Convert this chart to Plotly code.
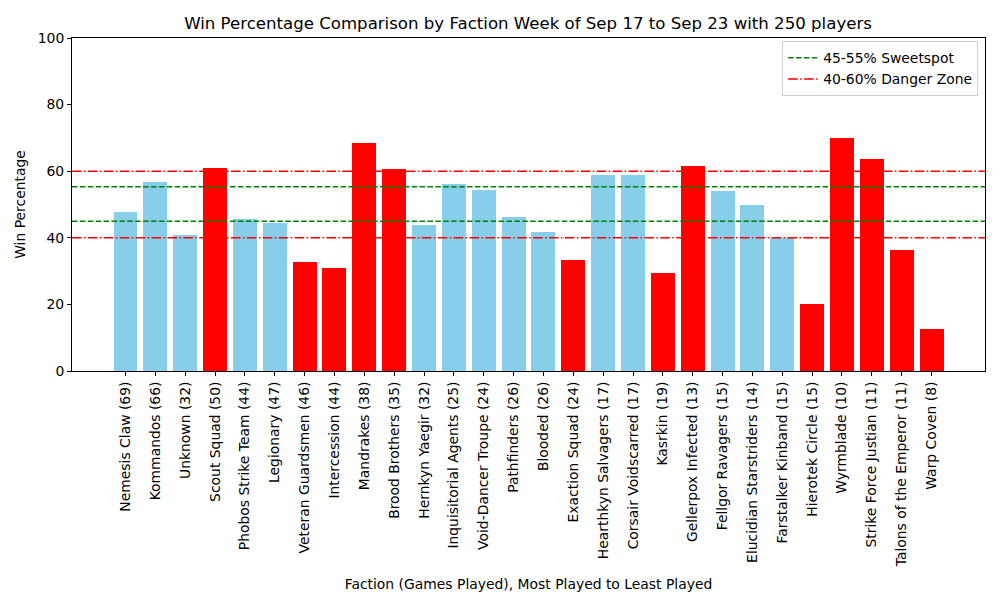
import plotly.graph_objects as go

factions = ["Nemesis Claw (69)", "Kommandos (66)", "Unknown (32)", "Scout Squad (50)",
            "Phobos Strike Team (44)", "Legionary (47)", "Veteran Guardsmen (46)",
            "Intercession (44)", "Mandrakes (38)", "Brood Brothers (35)", "Hernkyn Yaegir (32)",
            "Inquisitorial Agents (25)", "Void-Dancer Troupe (24)", "Pathfinders (26)",
            "Blooded (26)", "Exaction Squad (24)", "Hearthkyn Salvagers (17)",
            "Corsair Voidscarred (17)", "Kasrkin (19)", "Gellerpox Infected (13)",
            "Fellgor Ravagers (15)", "Elucidian Starstriders (14)", "Farstalker Kinband (15)",
            "Hierotek Circle (15)", "Wyrmblade (10)", "Strike Force Justian (11)",
            "Talons of the Emperor (11)", "Warp Coven (8)"]
win_pct = [47.8, 56.8, 40.8, 60.9, 45.6, 44.4, 32.7, 30.9, 68.4, 60.6, 43.8,
           56.1, 54.3, 46.2, 41.7, 33.3, 58.8, 58.8, 29.4, 61.5,
           54.0, 50.0, 40.0, 20.0, 70.0, 63.6, 36.4, 12.5]
sweet_lo, sweet_hi = 45, 55.3
danger_lo, danger_hi = 40, 60

colors = ["#FF0000" if (v < danger_lo or v > danger_hi) else "#87CEEB" for v in win_pct]
xs = list(range(len(factions)))

fig = go.Figure()
fig.add_trace(go.Bar(x=xs, y=win_pct, marker=dict(color=colors, line=dict(width=0)),
                     width=0.8, showlegend=False))

green_dash = "5.5px,2.4px"
red_dashdot = "9.6px,2.4px,1.5px,2.4px"
for yv in (sweet_lo, sweet_hi):
    fig.add_shape(type="line", xref="paper", x0=0, x1=1, yref="y", y0=yv, y1=yv,
                  line=dict(color="#008000", width=1.5, dash=green_dash))
for yv in (danger_lo, danger_hi):
    fig.add_shape(type="line", xref="paper", x0=0, x1=1, yref="y", y0=yv, y1=yv,
                  line=dict(color="#FF0000", width=1.5, dash=red_dashdot))

fig.add_trace(go.Scatter(x=[None], y=[None], mode="lines", name="45-55% Sweetspot",
                         line=dict(color="#008000", width=1.5, dash=green_dash)))
fig.add_trace(go.Scatter(x=[None], y=[None], mode="lines", name="40-60% Danger Zone",
                         line=dict(color="#FF0000", width=1.5, dash=red_dashdot)))

n = len(factions)
pad = 0.05 * (n - 1 + 0.8)
fs = 13.9
fig.update_layout(
    width=1000, height=600,
    margin=dict(l=72, r=15, t=38, b=229),
    plot_bgcolor="white", paper_bgcolor="white",
    font=dict(family="DejaVu Sans", size=fs, color="black"),
    title=dict(text="Win Percentage Comparison by Faction Week of Sep 17 to Sep 23 with 250 players",
               x=0.528, xanchor="center", y=0.962, yanchor="middle",
               font=dict(size=16.6)),
    bargap=0,
    legend=dict(x=0.9925, y=0.99, xanchor="right", yanchor="top",
                bgcolor="rgba(255,255,255,0.8)", bordercolor="#cccccc", borderwidth=1,
                font=dict(size=fs), tracegroupgap=0),
    xaxis=dict(range=[-0.4 - pad, n - 1 + 0.4 + pad], tickmode="array", tickvals=xs,
               ticktext=factions, tickangle=-90, showline=True, linecolor="black",
               linewidth=1, mirror=True, ticks="outside", ticklen=4, tickcolor="black",
               showgrid=False, zeroline=False, automargin=False,
               title=dict(text="Faction (Games Played), Most Played to Least Played",
                          standoff=12, font=dict(size=fs))),
    yaxis=dict(range=[0, 100], tickvals=[0, 20, 40, 60, 80, 100], showline=True,
               linecolor="black", linewidth=1, mirror=True, ticks="outside", ticklen=4,
               tickcolor="black", showgrid=False, zeroline=False, automargin=False,
               title=dict(text="Win Percentage", standoff=8, font=dict(size=fs))),
)

fig.write_html("out.html", config={"displayModeBar": False},
               post_script="document.body.style.margin='0';")
